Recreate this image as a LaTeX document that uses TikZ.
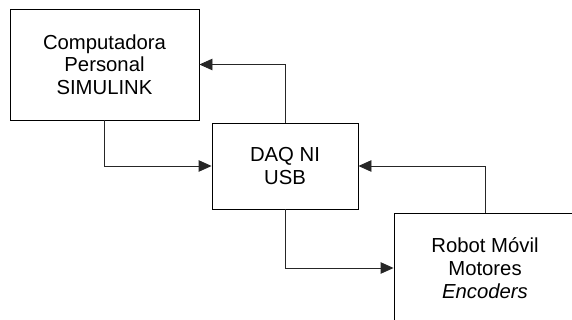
\documentclass[tikz,border=0pt]{standalone}
\usepackage{fontspec}
\setmainfont{Liberation Sans}
\usetikzlibrary{arrows.meta}
\begin{document}
\begin{tikzpicture}[x=1pt,y=-1pt,
  blk/.style={draw=black,line width=0.9pt,rectangle,align=center,inner sep=0pt,
    font=\fontsize{20.3}{22.7}\selectfont},
  con/.style={draw=black!85,line width=0.9pt,-{Triangle[length=13pt,width=11.5pt]}}]
\clip (0,0) rectangle (572,320);
\useasboundingbox (0,0) rectangle (572,320);
\fill[white] (0,0) rectangle (572,320);
\node[blk,minimum width=189pt,minimum height=111pt] (pc) at (104.5,64.5) {Computadora\\Personal\\SIMULINK};
\node[blk,minimum width=146pt,minimum height=86pt] (dq) at (285,166) {DAQ NI\\USB};
\node[blk,minimum width=182pt,minimum height=110pt] (rb) at (485,268) {Robot Móvil\\Motores\\\textit{Encoders}};
\draw[con] (dq.north) |- (pc.east);
\draw[con] (pc.south) |- (dq.west);
\draw[con] (dq.south) |- (rb.west);
\draw[con] (rb.north) |- (dq.east);
\end{tikzpicture}
\end{document}
